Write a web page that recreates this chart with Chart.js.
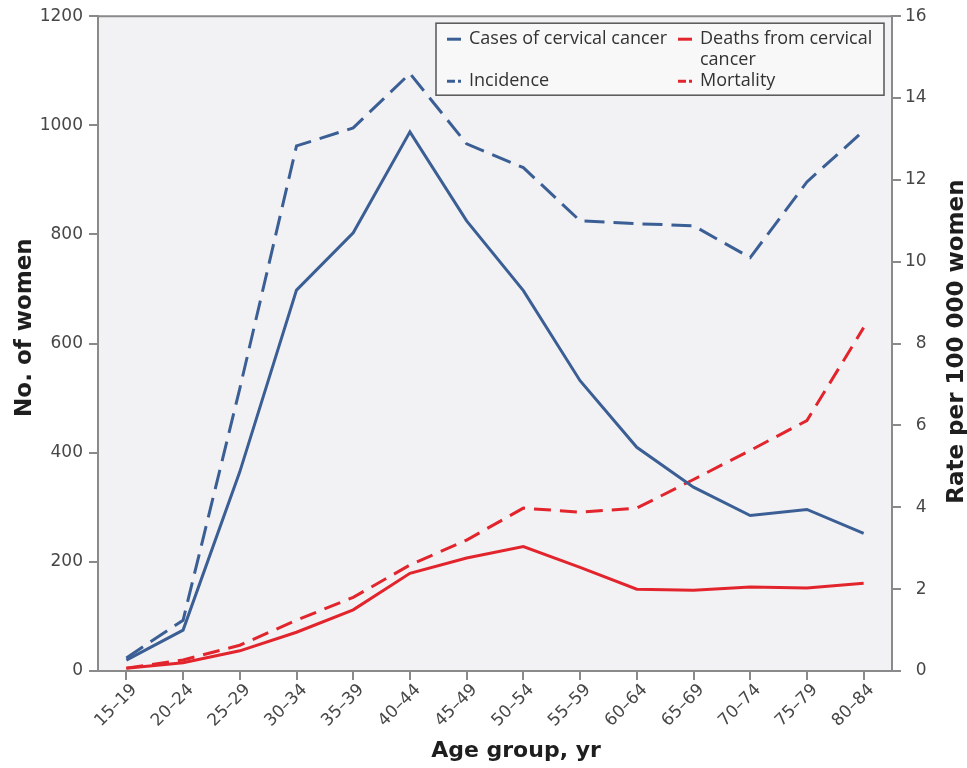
<!DOCTYPE html>
<html>
<head>
<meta charset="utf-8">
<script src="https://cdn.jsdelivr.net/npm/chart.js@4.4.1/dist/chart.umd.min.js"></script>
<style>
  html, body { margin: 0; padding: 0; background: #fff; }
  #wrap { width: 967px; height: 768px; }
</style>
</head>
<body>
<div id="wrap"><canvas id="chart" width="967" height="768"></canvas></div>
<script>
// age groups on the x axis
var ageGroups = ['15–19', '20–24', '25–29', '30–34', '35–39', '40–44', '45–49',
                 '50–54', '55–59', '60–64', '65–69', '70–74', '75–79', '80–84'];

// number of women (left axis)
var cases  = [20, 75, 365, 698, 803, 988, 825, 697, 532, 410, 337, 285, 296, 252];
var deaths = [5, 15, 37, 71, 112, 179, 207, 228, 190, 150, 148, 154, 152, 161];

// rate per 100 000 women (right axis)
var incidence = [0.32, 1.24, 6.9, 12.83, 13.27, 14.6, 12.88, 12.3, 11.0, 10.93, 10.88, 10.1, 11.95, 13.2];
var mortality = [0.07, 0.27, 0.63, 1.24, 1.8, 2.59, 3.2, 3.98, 3.88, 3.98, 4.68, 5.39, 6.12, 8.39];

var leftTicks = [0, 200, 400, 600, 800, 1000, 1200];
var rightTicks = [0, 2, 4, 6, 8, 10, 12, 14, 16];

var titles = { x: 'Age group, yr', left: 'No. of women', right: 'Rate per 100 000 women' };

var blue = '#3b5f95';
var red = '#e2252d';
var axisGray = '#8a8a8a';
var tickText = '#474747';
var tickFont = '"DejaVu Sans", Verdana, sans-serif';
var legendFont = '"Open Sans", "Noto Sans", sans-serif';

// plot background + top frame line
var plotBg = {
  id: 'plotBg',
  beforeDraw: function(chart) {
    var a = chart.chartArea, ctx = chart.ctx;
    ctx.save();
    ctx.fillStyle = '#f2f2f4';
    ctx.fillRect(a.left, a.top, a.right - a.left, a.bottom - a.top);
    ctx.restore();
  },
  afterDraw: function(chart) {
    var a = chart.chartArea, ctx = chart.ctx;
    ctx.save();
    ctx.strokeStyle = axisGray;
    ctx.lineWidth = 2;
    ctx.beginPath();
    ctx.moveTo(a.left, a.top);
    ctx.lineTo(a.right, a.top);
    ctx.stroke();
    ctx.restore();
  }
};

// axis titles (placed like the original, a bit off-centre)
var axisTitles = {
  id: 'axisTitles',
  afterDraw: function(chart) {
    var a = chart.chartArea, ctx = chart.ctx;
    var midY = (a.top + a.bottom) / 2, midX = (a.left + a.right) / 2;
    ctx.save();
    ctx.fillStyle = '#1e1e1e';
    ctx.font = 'bold 22px ' + tickFont;
    ctx.textAlign = 'center';
    ctx.textBaseline = 'middle';
    ctx.fillText(titles.x, midX + 21, chart.height - 17);

    ctx.save();
    ctx.font = 'bold 23px ' + tickFont;
    ctx.translate(25, midY - 16);
    ctx.rotate(-Math.PI / 2);
    ctx.fillText(titles.left, 0, 0);
    ctx.restore();

    ctx.save();
    ctx.font = 'bold 23px ' + tickFont;
    ctx.translate(chart.width - 10, midY - 2);
    ctx.rotate(-Math.PI / 2);
    ctx.fillText(titles.right, 0, 0);
    ctx.restore();
    ctx.restore();
  }
};

// boxed legend inside the plot, two columns
var boxLegend = {
  id: 'boxLegend',
  afterDraw: function(chart) {
    var a = chart.chartArea, ctx = chart.ctx;
    var w = 448, h = 72;
    var bx = a.right - 8 - w, by = a.top + 7;
    ctx.save();
    ctx.fillStyle = '#f8f8f9';
    ctx.fillRect(bx, by, w, h);
    ctx.strokeStyle = '#555';
    ctx.lineWidth = 1.5;
    ctx.strokeRect(bx, by, w, h);

    ctx.font = '18px ' + legendFont;
    ctx.fillStyle = '#333';
    ctx.textBaseline = 'middle';
    ctx.textAlign = 'left';

    var colX = [bx + 11, bx + 242];
    var colMax = [220, 184];
    var rowY = [by + 16, by + 58];
    chart.data.datasets.forEach(function(ds, i) {
      var c = i % 2;
      var sx = colX[c], sy = rowY[Math.floor(i / 2)];
      ctx.strokeStyle = ds.borderColor;
      ctx.lineWidth = 3;
      ctx.beginPath();
      if (ds.borderDash && ds.borderDash.length) {
        ctx.moveTo(sx, sy); ctx.lineTo(sx + 8, sy);
        ctx.moveTo(sx + 11, sy); ctx.lineTo(sx + 14, sy);
      } else {
        ctx.moveTo(sx, sy); ctx.lineTo(sx + 14, sy);
      }
      ctx.stroke();
      // simple word wrap
      var words = ds.label.split(' '), lines = [], cur = '';
      words.forEach(function(wd) {
        var t = cur ? cur + ' ' + wd : wd;
        if (ctx.measureText(t).width > colMax[c] && cur) { lines.push(cur); cur = wd; }
        else cur = t;
      });
      lines.push(cur);
      lines.forEach(function(ln, k) {
        ctx.fillText(ln, sx + 22, sy + k * 21);
      });
    });
    ctx.restore();
  }
};

var ctx = document.getElementById('chart');
new Chart(ctx, {
  type: 'line',
  data: {
    labels: ageGroups,
    datasets: [
      { label: 'Cases of cervical cancer', data: cases, yAxisID: 'yLeft',
        borderColor: blue, borderWidth: 3 },
      { label: 'Deaths from cervical cancer', data: deaths, yAxisID: 'yLeft',
        borderColor: red, borderWidth: 3 },
      { label: 'Incidence', data: incidence, yAxisID: 'yRight',
        borderColor: blue, borderWidth: 3, borderDash: [20, 9] },
      { label: 'Mortality', data: mortality, yAxisID: 'yRight',
        borderColor: red, borderWidth: 3, borderDash: [17, 9] }
    ]
  },
  options: {
    responsive: false,
    animation: false,
    layout: { padding: { top: 15, left: 0, right: 0, bottom: 0 } },
    elements: { point: { radius: 0 }, line: { tension: 0 } },
    plugins: { legend: { display: false }, tooltip: { enabled: false } },
    scales: {
      x: {
        type: 'category',
        offset: true,
        afterFit: function(s) { s.height = 97; },
        border: { color: axisGray, width: 2 },
        grid: { drawOnChartArea: false, drawTicks: true, tickLength: 9, color: axisGray, lineWidth: 2 },
        ticks: { color: tickText, font: { family: tickFont, size: 17 }, minRotation: 45, maxRotation: 45,
                 padding: 0, labelOffset: 8 }
      },
      yLeft: {
        position: 'left',
        min: 0, max: 1200,
        afterFit: function(s) { s.width = 98; },
        afterBuildTicks: function(s) { s.ticks = leftTicks.map(function(v) { return { value: v }; }); },
        border: { color: axisGray, width: 2 },
        grid: { drawOnChartArea: false, drawTicks: true, tickLength: 9, color: axisGray, lineWidth: 2 },
        ticks: { color: tickText, font: { family: tickFont, size: 17 }, padding: 6,
                 callback: function(v) { return String(v); } }
      },
      yRight: {
        position: 'right',
        min: 0, max: 16,
        afterFit: function(s) { s.width = 75; },
        afterBuildTicks: function(s) { s.ticks = rightTicks.map(function(v) { return { value: v }; }); },
        border: { color: axisGray, width: 2 },
        grid: { drawOnChartArea: false, drawTicks: true, tickLength: 9, color: axisGray, lineWidth: 2 },
        // single digits padded with a figure space so they line up on the right
        ticks: { color: tickText, font: { family: tickFont, size: 17 }, padding: 4,
                 callback: function(v) { return v < 10 ? '\u2007' + v : String(v); } }
      }
    }
  },
  plugins: [plotBg, axisTitles, boxLegend]
});
</script>
</body>
</html>
